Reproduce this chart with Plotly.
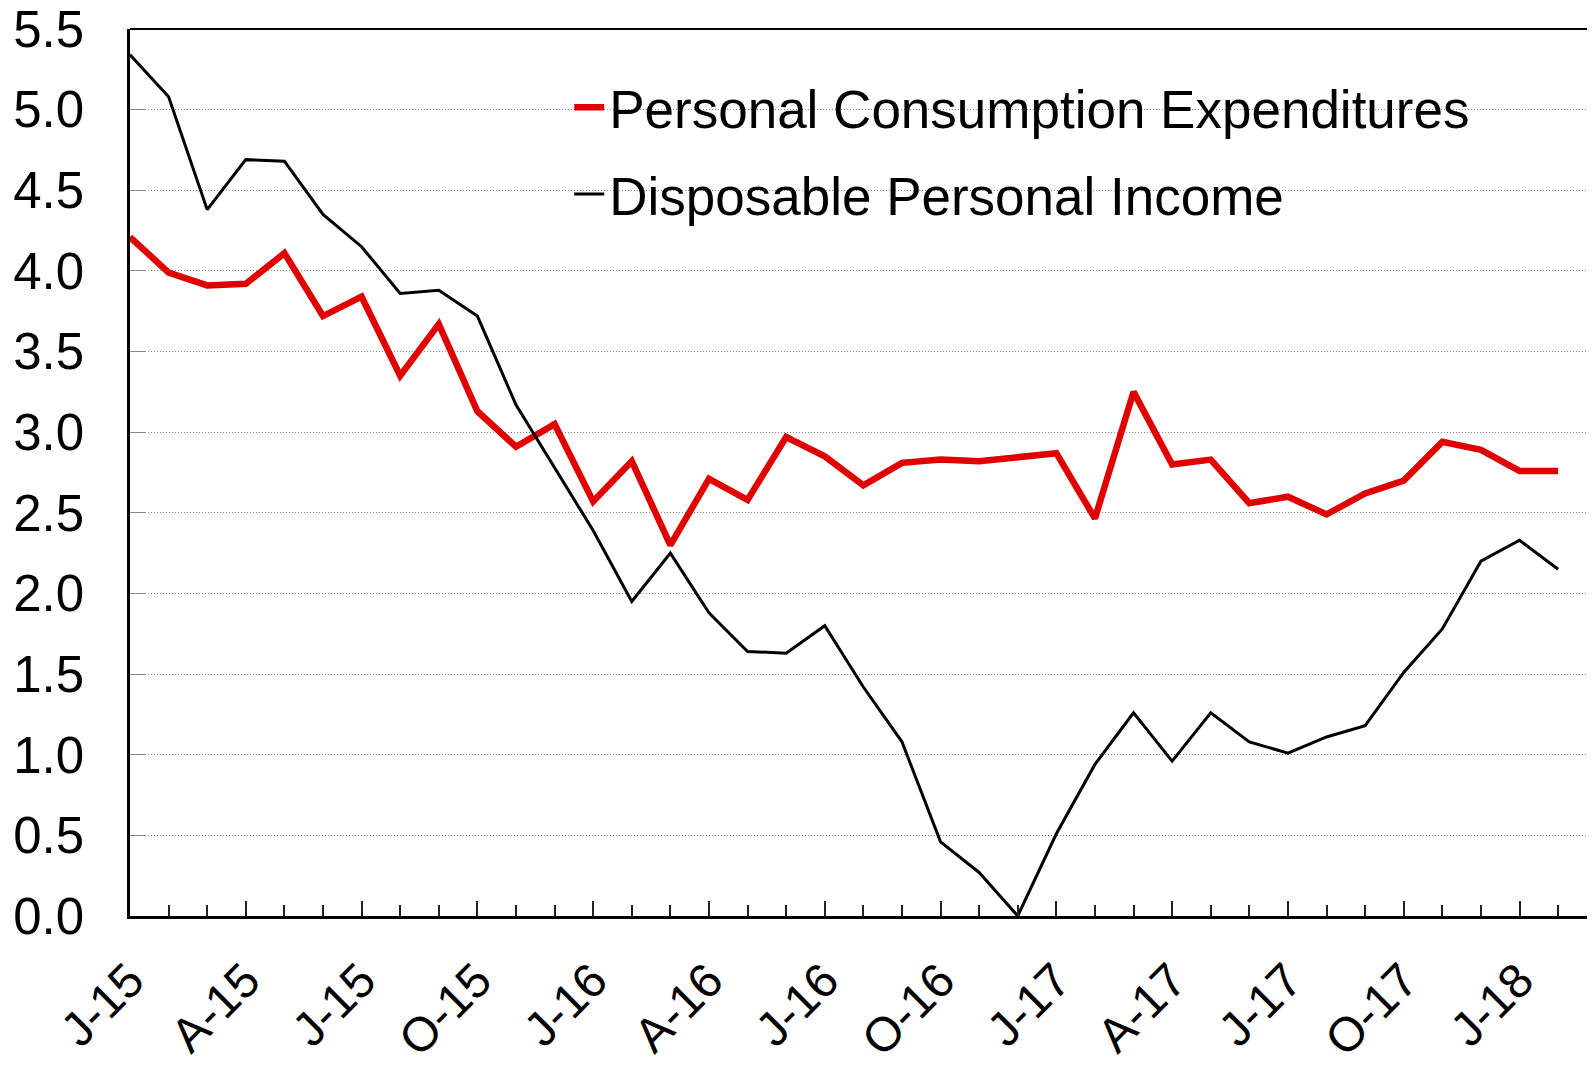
import plotly.graph_objects as go

# Monthly categories Jan-2015 .. Feb-2018
months = ["J", "F", "M", "A", "M", "J", "J", "A", "S", "O", "N", "D"]
years = ["15", "16", "17", "18"]
categories = [f"{months[m]}-{years[y]}" for y in range(4) for m in range(12)][:38]

pce = [4.21, 3.99, 3.91, 3.92, 4.11, 3.72, 3.84, 3.35, 3.67, 3.13, 2.91, 3.05,
       2.57, 2.82, 2.30, 2.71, 2.58, 2.97, 2.85, 2.67, 2.81, 2.83, 2.82, 2.85,
       2.87, 2.465, 3.25, 2.80, 2.83, 2.56, 2.60, 2.49, 2.62, 2.70, 2.94, 2.89,
       2.76, 2.76]

dpi = [5.34, 5.08, 4.38, 4.69, 4.68, 4.35, 4.15, 3.86, 3.88, 3.72, 3.17, 2.78,
       2.39, 1.95, 2.25, 1.88, 1.64, 1.63, 1.80, 1.42, 1.08, 0.46, 0.27, 0.0,
       0.51, 0.94, 1.26, 0.96, 1.26, 1.08, 1.01, 1.11, 1.18, 1.51, 1.78, 2.20,
       2.33, 2.15]

tick_idx = list(range(0, 38, 3))
tick_text = [categories[i] for i in tick_idx]
y_ticks = [i * 0.5 for i in range(12)]
y_text = [f"{v:.1f}" for v in y_ticks]

x_idx = list(range(len(categories)))

FONT = "Liberation Sans, Arial, sans-serif"

fig = go.Figure()
fig.add_trace(go.Scatter(
    x=x_idx, y=pce, mode="lines", name="Personal Consumption Expenditures",
    line=dict(color="#E00000", width=6.5), legendgroup="a",
    customdata=categories, hovertemplate="%{customdata}: %{y}<extra></extra>"))
fig.add_trace(go.Scatter(
    x=x_idx, y=dpi, mode="lines", name="Disposable Personal Income",
    line=dict(color="#000000", width=3), legendgroup="b",
    customdata=categories, hovertemplate="%{customdata}: %{y}<extra></extra>"))

# page body has an 8px margin; figure is sized so it ends at the window edge
fig.update_layout(
    width=1587, height=1058,
    margin=dict(l=122, r=1, t=21, b=150, autoexpand=False),
    paper_bgcolor="white", plot_bgcolor="white",
    font=dict(family=FONT, color="black"),
    showlegend=True,
    legend=dict(
        x=0.30, y=0.958, xanchor="left", yanchor="top",
        bgcolor="rgba(255,255,255,0)", borderwidth=0,
        font=dict(size=53, family=FONT, color="black"),
        tracegroupgap=15, traceorder="grouped",
    ),
    shapes=[
        dict(type="rect", xref="paper", yref="paper", x0=0.248, x1=0.955,
             y0=0.77, y1=0.97, fillcolor="white", line=dict(width=0),
             layer="between"),
        dict(type="line", xref="paper", yref="paper", x0=0, x1=1, y0=1, y1=1,
             line=dict(color="black", width=2)),
        dict(type="line", xref="paper", yref="paper", x0=1, x1=1, y0=0, y1=1,
             line=dict(color="#9a9a9a", width=1)),
    ],
)

fig.update_xaxes(
    range=[0, 37.93], tickmode="array", tickvals=tick_idx, ticktext=tick_text,
    tickangle=-45, tickfont=dict(size=48, family=FONT, color="black"),
    ticks="inside", ticklen=15, tickwidth=1.5, tickcolor="#222",
    minor=dict(tickmode="linear", tick0=0, dtick=1, ticks="inside",
               ticklen=11, tickwidth=1.5, tickcolor="#222", showgrid=False),
    showgrid=False, zeroline=False,
    showline=True, linecolor="black", linewidth=2.5,
    ticklabelstandoff=14, ticklabeloverflow="allow",
)
fig.update_yaxes(
    range=[0, 5.5], tickmode="array", tickvals=y_ticks, ticktext=y_text,
    tickfont=dict(size=51, family=FONT, color="black"),
    ticks="inside", ticklen=15, tickwidth=1, tickcolor="#888",
    showgrid=True, gridcolor="#8c8c8c", gridwidth=1, griddash="1px,2px",
    zeroline=False, showline=True, linecolor="black", linewidth=2.5,
    ticklabelstandoff=33, ticklabeloverflow="allow",
)

fig.write_html("out.html")
